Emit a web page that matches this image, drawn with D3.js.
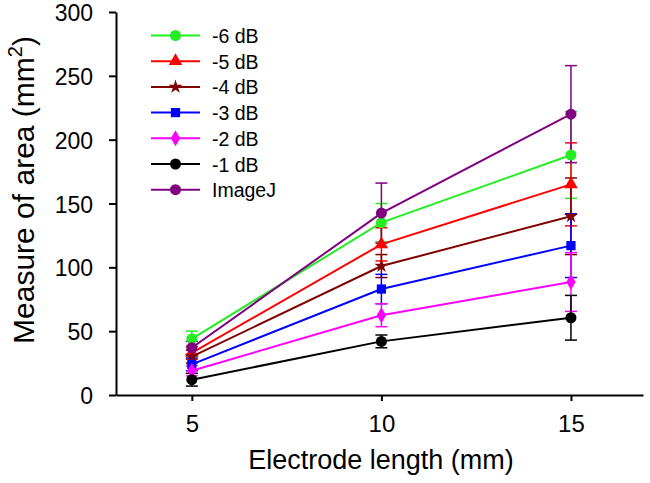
<!DOCTYPE html>
<html><head><meta charset="utf-8">
<script src="https://cdnjs.cloudflare.com/ajax/libs/d3/7.8.5/d3.min.js"></script>
<style>body{margin:0;background:#fff}svg{display:block;font-family:"Liberation Sans",Arial,sans-serif}</style>
</head><body><svg id="c" width="650" height="483"></svg>
<script>
const lengths = [5, 10, 15];
const seriesNames = ["-6 dB", "-5 dB", "-4 dB", "-3 dB", "-2 dB", "-1 dB", "ImageJ"];
const seriesColors = ["#22ee22", "#ff0000", "#800000", "#0000ff", "#ff00ff", "#000000", "#800080"];
const seriesSymbols = ["circle", "triangle", "star", "square", "diamond", "circle", "circle"];
const valsM6 = [44, 135, 188];
const valsM5 = [33, 118, 165];
const valsM4 = [30, 101, 140];
const valsM3 = [24, 83, 117];
const valsM2 = [19, 62.5, 88.5];
const valsM1 = [12, 42, 60.5];
const valsImageJ = [37, 142.5, 220];
const errM6 = [6, 15, 34];
const errM5 = [5, 13, 32.5];
const errM4 = [5, 9, 30];
const errM3 = [5, 11.5, 25];
const errM2 = [4, 9, 23];
const errM1 = [5, 5, 17.5];
const errImageJ = [5, 23.5, 38];
const yTicks = [0, 50, 100, 150, 200, 250, 300];
const xTicks = [5, 10, 15];

const values = [valsM6, valsM5, valsM4, valsM3, valsM2, valsM1, valsImageJ];
const errors = [errM6, errM5, errM4, errM3, errM2, errM1, errImageJ];

const svg = d3.select("#c");
const x = d3.scaleLinear().domain([3, 16.9]).range([116, 643]);
const y = d3.scaleLinear().domain([0, 300]).range([395, 12]);

// axes
const xAxis = svg.append("g").attr("transform", "translate(0,395)")
  .call(d3.axisBottom(x).tickValues(xTicks).tickSize(6).tickSizeOuter(0).tickPadding(14));
const yAxis = svg.append("g").attr("transform", "translate(116,0)")
  .call(d3.axisLeft(y).tickValues(yTicks).tickSize(7).tickSizeOuter(0).tickPadding(16));
[xAxis, yAxis].forEach(a => {
  a.selectAll("path, line").attr("stroke", "#000").attr("stroke-width", 2);
  a.selectAll("text").attr("font-size", 24).attr("fill", "#000").attr("font-family", "Liberation Sans, Arial, sans-serif");
});
yAxis.selectAll("text").attr("font-size", 23).attr("dy", null).attr("y", 8.6);

svg.append("text").attr("x", 381).attr("y", 469).attr("text-anchor", "middle")
  .attr("font-size", 27).text("Electrode length (mm)");
const yt = svg.append("text").attr("transform", "translate(34,190) rotate(-90)")
  .attr("text-anchor", "middle").attr("font-size", 30);
yt.append("tspan").text("Measure of area (mm");
yt.append("tspan").attr("dy", -12).attr("font-size", 20).text("2");
yt.append("tspan").attr("dy", 12).text(")");

const symMap = {circle: d3.symbolCircle, triangle: d3.symbolTriangle, star: d3.symbolStar, square: d3.symbolSquare, diamond: d3.symbolDiamond};
const symSize = {circle: 95, triangle: 80, star: 60, square: 85, diamond: 75};
function sym(s) { return d3.symbol().type(symMap[s]).size(symSize[s])(); }

const line = d3.line().x((d, i) => x(lengths[i])).y(d => y(d));

// error bars
seriesNames.forEach((n, si) => {
  const g = svg.append("g");
  values[si].forEach((v, i) => {
    const e = errors[si][i], cx = x(lengths[i]);
    g.append("line").attr("x1", cx).attr("x2", cx).attr("y1", y(v - e)).attr("y2", y(v + e))
      .attr("stroke", seriesColors[si]).attr("stroke-width", 1.5);
    [v - e, v + e].forEach(t => g.append("line").attr("x1", cx - 6).attr("x2", cx + 6)
      .attr("y1", y(t)).attr("y2", y(t)).attr("stroke", seriesColors[si]).attr("stroke-width", 1.5));
  });
});
// lines and markers
seriesNames.forEach((n, si) => {
  svg.append("path").datum(values[si]).attr("d", line).attr("fill", "none")
    .attr("stroke", seriesColors[si]).attr("stroke-width", 2);
  svg.append("g").selectAll("path").data(values[si]).join("path")
    .attr("transform", (d, i) => `translate(${x(lengths[i])},${y(d)})`)
    .attr("d", sym(seriesSymbols[si])).attr("fill", seriesColors[si]);
});

// legend
const lg = svg.append("g");
seriesNames.forEach((n, si) => {
  const ly = 35.5 + si * 25.7;
  lg.append("line").attr("x1", 151).attr("x2", 200).attr("y1", ly).attr("y2", ly)
    .attr("stroke", seriesColors[si]).attr("stroke-width", 2);
  lg.append("path").attr("transform", `translate(175.5,${ly})`).attr("d", sym(seriesSymbols[si]))
    .attr("fill", seriesColors[si]);
  lg.append("text").attr("x", 212).attr("y", ly + 7.5).attr("font-size", 19.5).text(n);
});
</script></body></html>
